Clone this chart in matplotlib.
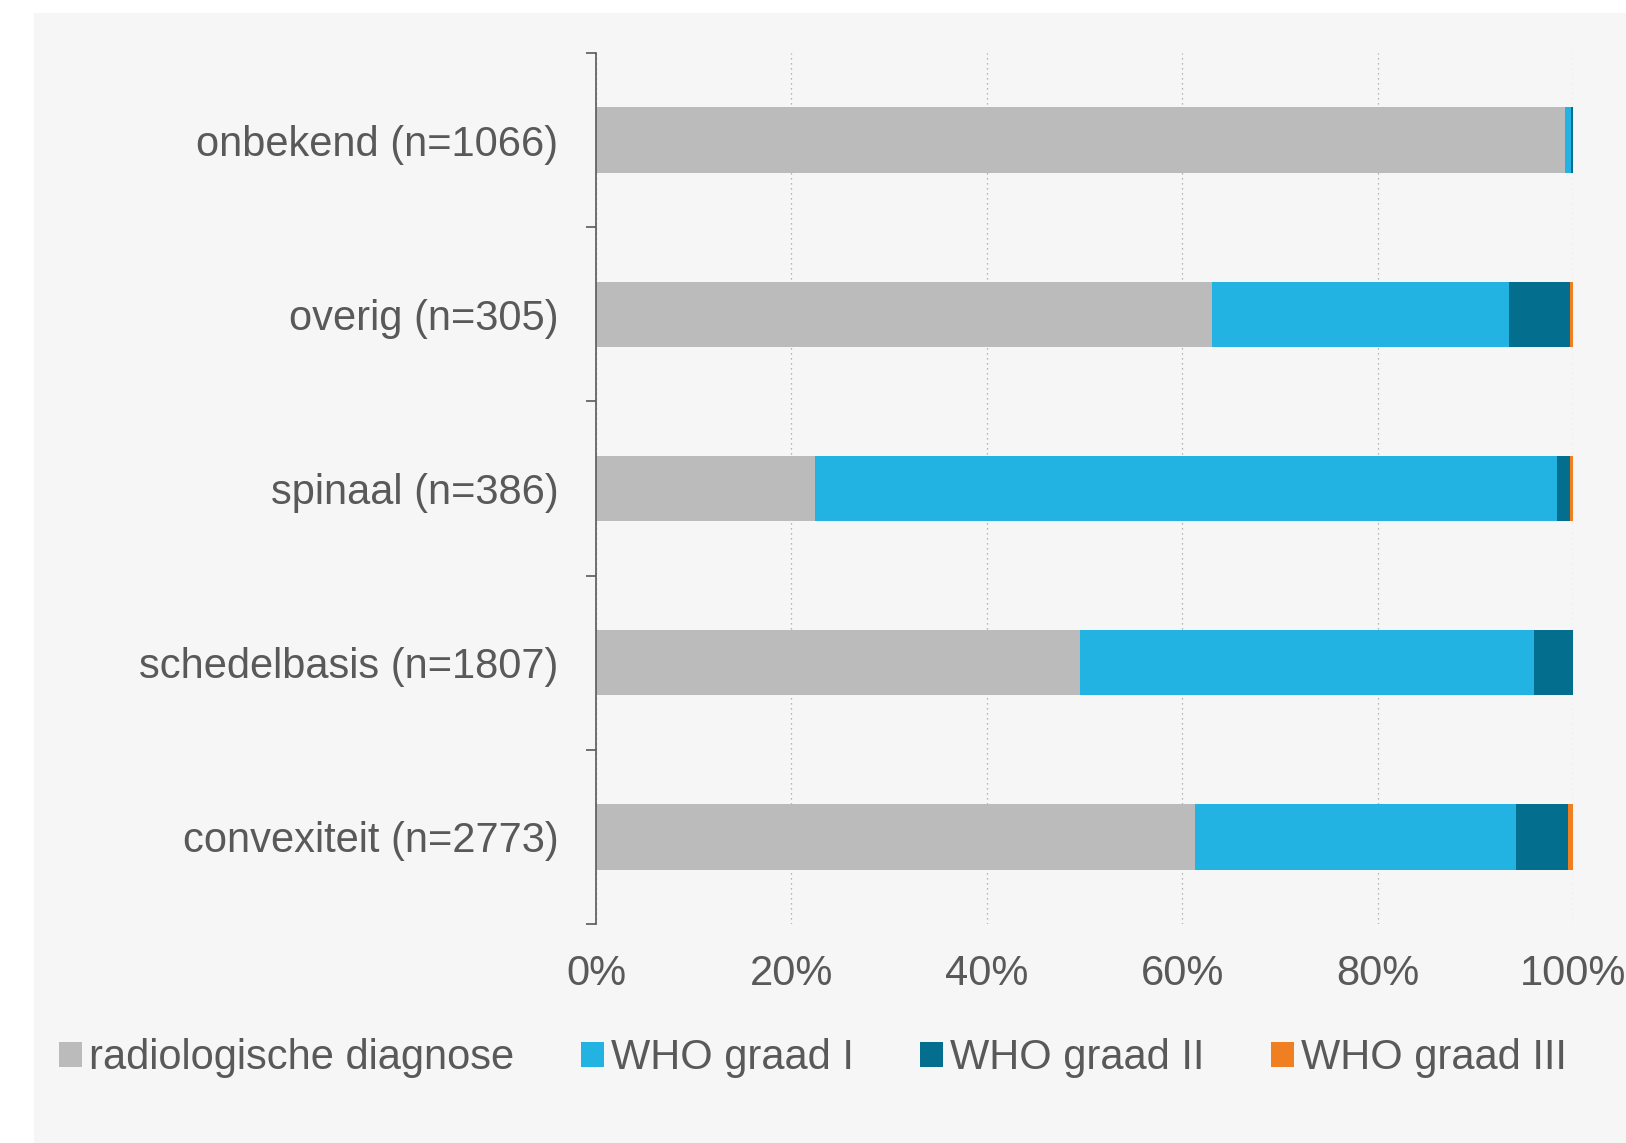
import matplotlib
matplotlib.use("Agg")
import matplotlib.pyplot as plt
from matplotlib.patches import Rectangle
import numpy as np

categories = ["convexiteit (n=2773)", "schedelbasis (n=1807)", "spinaal (n=386)",
              "overig (n=305)", "onbekend (n=1066)"]
series_names = ["radiologische diagnose", "WHO graad I", "WHO graad II", "WHO graad III"]
radiologisch = [61.3, 49.5, 22.4, 63.1, 99.2]
who_1 = [32.9, 46.5, 76.0, 30.3, 0.6]
who_2 = [5.3, 4.0, 1.3, 6.3, 0.2]
who_3 = [0.5, 0.0, 0.3, 0.3, 0.0]
xtick_values = [0, 20, 40, 60, 80, 100]
xtick_labels = ["0%", "20%", "40%", "60%", "80%", "100%"]

colors = ["#BBBBBB", "#23B3E2", "#046E8F", "#F07F22"]
text_color = "#595959"
bg = "#F6F6F6"

plt.rcParams['font.family'] = ['Liberation Sans', 'DejaVu Sans']
FS = 30

fig = plt.figure(figsize=(16.26, 11.43), dpi=100)
fig.patch.set_facecolor("white")
fig.patches.append(Rectangle((34 / 1626, 0), 1, (1143 - 13) / 1143,
                             transform=fig.transFigure, facecolor=bg,
                             edgecolor="none", zorder=-10))

ax = fig.add_axes([596 / 1626, 1 - 924 / 1143, (1573 - 596) / 1626, (924 - 53) / 1143])
ax.set_zorder(2)
ax.set_facecolor(bg)
ax.patch.set_alpha(0)

y = np.arange(len(categories))
left = np.zeros(len(categories))
for vals, name, c in zip([radiologisch, who_1, who_2, who_3], series_names, colors):
    ax.barh(y, vals, left=left, height=0.375, color=c, label=name, zorder=3)
    left += np.array(vals)

ax.set_xlim(0, 100)
ax.set_ylim(-0.5, len(categories) - 0.5)
ax.set_xticks(xtick_values)
ax.set_xticklabels(xtick_labels)
ax.set_yticks(y)
ax.set_yticklabels(categories)
ax.set_yticks(np.arange(-0.5, len(categories), 1), minor=True)

ax.tick_params(axis="y", which="major", length=0, pad=27, labelsize=FS, labelcolor=text_color)
ax.tick_params(axis="y", which="minor", length=7, width=1.2, color="#595959", direction="out")
ax.tick_params(axis="x", length=0, pad=21.5, labelsize=FS, labelcolor=text_color)

ax.xaxis.grid(True, linestyle=(0, (1, 3)), color="#A0A0A0", linewidth=0.9, zorder=0)
ax.set_axisbelow(True)
for s in ["top", "right", "bottom"]:
    ax.spines[s].set_visible(False)
ax.spines["left"].set_color("#595959")
ax.spines["left"].set_linewidth(1.2)
ax.spines["left"].set_zorder(4)

handles, labels = ax.get_legend_handles_labels()
leg = fig.legend(handles, labels, loc="center", bbox_to_anchor=(0.5, 1 - 1058 / 1143),
                 ncol=4, frameon=False, fontsize=FS, handlelength=0.55, handleheight=0.55,
                 handletextpad=0.17, columnspacing=1.6, labelcolor=text_color,
                 borderaxespad=0)

fig.savefig("out.png", dpi=100, facecolor=fig.get_facecolor())
